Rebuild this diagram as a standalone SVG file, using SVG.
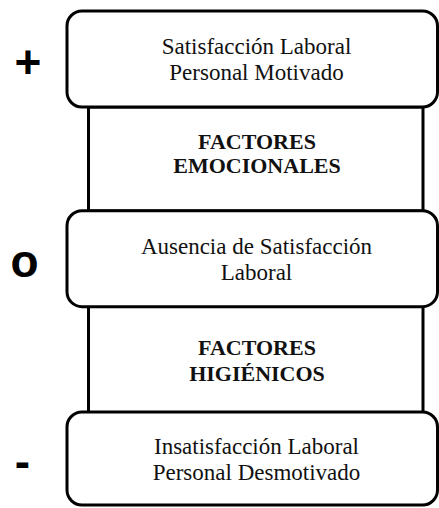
<svg xmlns="http://www.w3.org/2000/svg" width="439" height="508" viewBox="0 0 439 508">
<style>
.box{fill:#fff;stroke:#000;stroke-width:3}
.band{fill:#fff;stroke:#000;stroke-width:3}
.t{font-family:"Liberation Serif","Times New Roman",serif;font-size:23px;fill:#111;text-anchor:middle}
.b{font-family:"Liberation Serif","Times New Roman",serif;font-size:22px;font-weight:bold;fill:#111;text-anchor:middle}
.s{font-family:"Liberation Sans",Arial,sans-serif;font-size:46px;font-weight:bold;fill:#000;text-anchor:middle}
</style>
<rect width="439" height="508" fill="#fff"/>
<g id="factores-emocionales">
<rect class="band" x="88.5" y="107" width="334.5" height="104"/>
<text class="b" x="257" y="148.5">FACTORES</text>
<text class="b" x="257" y="173">EMOCIONALES</text>
</g>
<g id="factores-higienicos">
<rect class="band" x="88.5" y="306.5" width="334.5" height="106"/>
<text class="b" x="257" y="355">FACTORES</text>
<text class="b" x="257" y="380.5">HIGIÉNICOS</text>
</g>
<g id="satisfaccion">
<rect class="box" x="67" y="11" width="370.5" height="96" rx="15"/>
<text class="t" x="256.5" y="53.5">Satisfacción Laboral</text>
<text class="t" x="256.5" y="80">Personal Motivado</text>
</g>
<g id="ausencia">
<rect class="box" x="67" y="210.7" width="370.5" height="96" rx="15"/>
<text class="t" x="256.5" y="253.5">Ausencia de Satisfacción</text>
<text class="t" x="256.5" y="280">Laboral</text>
</g>
<g id="insatisfaccion">
<rect class="box" x="67" y="412" width="370.5" height="93" rx="15"/>
<text class="t" x="256.5" y="454">Insatisfacción Laboral</text>
<text class="t" x="256.5" y="480">Personal Desmotivado</text>
</g>
<g id="signos">
<text class="s" x="28" y="78">+</text>
<text class="s" x="24.5" y="277">o</text>
<text class="s" x="22.5" y="477">-</text>
</g>
<g id="connectors"/>
</svg>
